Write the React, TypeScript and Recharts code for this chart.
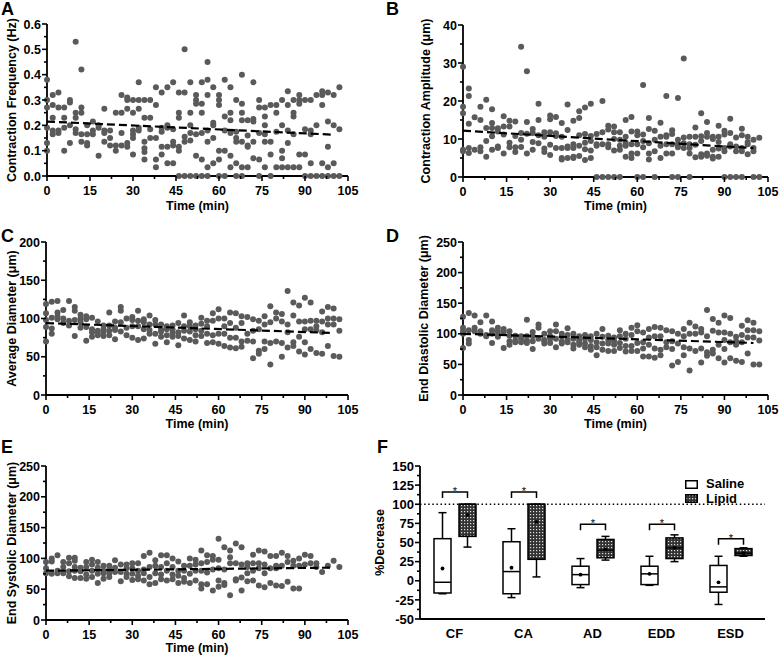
import React from 'react';
import { ScatterChart, Scatter, XAxis, YAxis, ReferenceLine, BarChart, Bar, Legend } from 'recharts';

const FONT = '"Liberation Sans", Arial, Helvetica, sans-serif';
const INK = '#000';
const DOT = '#5a5a5a';
const TS = 5;
const TM = 3;

// ---------- shared time axis ----------
const times = [0, 2, 4, 6, 8, 10, 12, 14, 16, 18, 20, 22, 24, 26, 28, 30, 32, 34, 36, 38, 40, 42, 44, 46, 48, 50,
  52, 54, 56, 58, 60, 62, 64, 66, 68, 70, 72, 74, 76, 78, 80, 82, 84, 86, 88, 90, 92, 94, 96, 98, 100, 102];
const timeMajor = [0, 15, 30, 45, 60, 75, 90, 105];
const timeMinor = [7.5, 22.5, 37.5, 52.5, 67.5, 82.5, 97.5];
const trendTimes = [0, 100];

// ---------- A: contraction frequency (Hz) ----------
const freqValues: number[][] = [
  [0.38, 0.3, 0.27, 0.19, 0.13, 0.1], [0.32, 0.28, 0.23, 0.18, 0.165], [0.33, 0.27, 0.18, 0.17],
  [0.27, 0.23, 0.19, 0.1], [0.3, 0.29, 0.2, 0.13], [0.53, 0.25, 0.23, 0.185, 0.17],
  [0.42, 0.27, 0.25, 0.165, 0.135], [0.2, 0.165, 0.13, 0.12], [0.215, 0.18, 0.165],
  [0.2, 0.19, 0.08], [0.265, 0.18, 0.17, 0.135], [0.18, 0.15, 0.12], [0.25, 0.12, 0.1],
  [0.32, 0.25, 0.17, 0.12], [0.31, 0.3, 0.265, 0.13, 0.115], [0.3, 0.25, 0.18, 0.165, 0.15, 0.085],
  [0.37, 0.3, 0.265, 0.19, 0.18], [0.3, 0.23, 0.135, 0.11, 0.095, 0.065], [0.3, 0.23, 0.185, 0.15],
  [0.35, 0.28, 0.15, 0.065, 0.035], [0.33, 0.19, 0.175, 0.115, 0.085], [0.35, 0.2, 0.19, 0.115, 0.05],
  [0.37, 0.185, 0.135, 0.12, 0.05], [0.33, 0.25, 0.23, 0.115, 0.1, 0], [0.5, 0.33, 0.155, 0.135, 0],
  [0.37, 0.25, 0.2, 0.17, 0.14, 0], [0.32, 0.3, 0.285, 0.165, 0.08, 0], [0.37, 0.285, 0.25, 0.17, 0.065, 0],
  [0.45, 0.38, 0.32, 0.18, 0.135, 0.035, 0], [0.35, 0.21, 0.2, 0.15, 0.05], [0.32, 0.3, 0.28, 0.1, 0.065, 0],
  [0.38, 0.235, 0.18, 0.1, 0], [0.35, 0.25, 0.22, 0.17, 0.08, 0.035], [0.3, 0.175, 0.15, 0.135, 0.05, 0],
  [0.4, 0.285, 0.25, 0.22, 0.135, 0.035, 0], [0.22, 0.16, 0.12, 0.115, 0.035], [0.37, 0.225, 0.215, 0.135, 0.07],
  [0.3, 0.27, 0.17, 0.065, 0], [0.27, 0.235, 0.2, 0.165, 0.135, 0.035], [0.28, 0.135, 0.085, 0],
  [0.28, 0.25, 0.175, 0.035], [0.3, 0.2, 0.1, 0.07, 0.035], [0.335, 0.28, 0.18, 0.13, 0.035],
  [0.3, 0.25, 0.235, 0.165, 0.035], [0.32, 0.3, 0.285, 0.085, 0.035], [0.3, 0.185, 0.085, 0],
  [0.3, 0.18, 0.165, 0.05, 0], [0.32, 0.2, 0], [0.335, 0.32, 0.28, 0.05, 0], [0.33, 0.215, 0.115, 0.035, 0],
  [0.32, 0.2, 0.05, 0], [0.35, 0.185, 0],
];
const freqTrend = [0.215, 0.163];
const freqMajor = [0, 0.1, 0.2, 0.3, 0.4, 0.5, 0.6];
const freqMinor = [0.05, 0.15, 0.25, 0.35, 0.45, 0.55];

// ---------- B: contraction amplitude (um) ----------
const ampValues: number[][] = [
  [29, 18.5, 16.8, 7.2, 6.8], [23.3, 21.3, 14, 7.6, 6.3], [15.7, 7.2], [18.5, 15, 7.8, 6.8],
  [20.3, 12.9, 9.5, 5.3], [17.8, 14.2, 12.9, 10.7, 7.2], [12.8, 12, 8, 7.6], [16, 13.3, 11.2, 6.2],
  [14.8, 13.3, 9, 7.8], [14.6, 10.8, 7.8, 6.6], [34.3, 11.6, 9.8, 7.9], [27.8, 14.5, 11.4, 6.2],
  [12.6, 11.6, 9.2, 7.2], [19.3, 15, 11, 8.9], [11.8, 10.6, 7.5, 6.6], [16.2, 15.2, 11.8, 8.5, 5.8],
  [15.8, 11.5, 10.8, 7.6], [14.2, 10.6, 7.6, 5, 4.6], [19.1, 12.4, 8, 7.6, 5], [14.8, 8.6, 7.6, 5.3, 5],
  [17.3, 15.5, 11, 8.2, 5.5], [18.3, 11.3, 9, 7.3, 4.5], [19.3, 10.8, 9.5, 7, 5], [11.3, 8.6, 8.2, 0],
  [20, 11.8, 8.6, 0], [13.5, 12.5, 8.6, 7.8, 0], [13.3, 11.8, 10, 7, 0], [11.8, 9.8, 8.2, 7.2, 0],
  [15, 10.6, 9, 8.2, 5.3], [15.8, 12, 8.6, 6.2, 5], [12, 11, 8.6, 6.2, 0], [24.2, 11.2, 9.5, 7.8, 0],
  [15.5, 12.6, 8.9, 6.2, 4.6], [12.2, 9.8, 6.8, 0], [14.3, 10.6, 8.2, 5], [21.3, 11, 10.6, 8.6, 6.2],
  [12.3, 11.3, 8.6, 6.2, 0], [20.8, 9.8, 8.6, 7.8, 0], [31.2, 10.4, 8.9, 7.6], [10.6, 8.6, 7.6, 6.2, 0],
  [13, 10.6, 8.5, 5.2], [16.8, 10.7, 9.5, 6, 5.3], [14.5, 11.6, 10.6, 6.2, 5.6], [10.6, 10, 7.2, 5.3, 4.9],
  [13.5, 10.6, 9.2, 7.5, 5.3], [12.2, 11.2, 7.6, 6.8, 0], [15.3, 11.6, 8.6, 8, 0], [10.4, 8, 6.8, 0],
  [12.7, 11, 7.6, 6.8, 0], [10.6, 9.2, 8.6, 6], [9.8, 7.6, 6.8, 0], [10.3, 0],
];
const ampTrend = [12.2, 7.6];
const ampMajor = [0, 10, 20, 30, 40];
const ampMinor = [5, 15, 25, 35];

// ---------- C: average diameter (um) ----------
const avgValues: number[][] = [
  [119, 107, 98, 89, 70], [122, 101, 87, 80], [123, 108, 103, 99], [111, 100, 94], [123, 97, 91],
  [115, 110, 98, 77], [105, 100, 95, 88], [103, 99, 89, 71], [101, 86, 82, 76], [96, 84, 80, 78],
  [91, 86, 83, 77], [108, 91, 84, 78], [96, 88, 85, 73], [115, 110, 95, 83], [100, 88, 78],
  [102, 98, 90, 75], [110, 97, 90, 72], [99, 95, 86, 74], [104, 92, 85, 80], [98, 92, 80, 67],
  [92, 86, 83, 76], [90, 86, 78, 69], [91, 86, 81, 76], [94, 82, 77, 65], [104, 90, 84, 74],
  [95, 90, 83, 72], [91, 86, 78, 70], [101, 93, 84, 77], [97, 90, 80, 68], [107, 97, 78, 69],
  [112, 100, 80, 67], [100, 90, 80, 64], [108, 94, 75, 62], [107, 88, 75, 61], [103, 94, 70, 63],
  [102, 80, 71], [99, 84, 70, 48], [97, 86, 58, 54], [103, 92, 70, 60], [116, 95, 68, 40],
  [108, 100, 70], [106, 96, 68, 50], [136, 92, 82, 62], [121, 104, 69, 64], [117, 96, 76, 57],
  [127, 96, 86, 69, 53], [121, 97, 86, 60], [97, 90, 85, 55], [109, 96, 82, 54], [115, 100, 92, 64],
  [113, 100, 92, 51], [99, 84, 50],
];
const avgTrend = [94, 81];
const avgMajor = [0, 50, 100, 150, 200];
const avgMinor = [25, 75, 125, 175];

// ---------- D: end diastolic diameter (um) ----------
const eddValues: number[][] = [
  [128, 110, 104, 100, 77], [134, 106, 90, 84], [130, 110, 104], [119, 104, 100], [130, 98, 96],
  [120, 106, 100, 85], [110, 104, 98, 95], [108, 103, 77], [104, 97, 88, 82], [97, 89, 86],
  [96, 92, 86], [123, 96, 89, 85], [103, 96, 88, 75], [115, 110, 92], [100, 90, 88, 84],
  [104, 96, 92, 85], [115, 104, 92, 78], [100, 96, 88, 84], [109, 98, 90, 86], [100, 92, 82, 76],
  [96, 90, 86, 82], [98, 92, 84, 78], [96, 90, 80, 74], [100, 86, 78, 65], [108, 95, 84, 74],
  [97, 90, 84, 72], [94, 88, 82, 72], [106, 96, 85, 77], [100, 92, 80, 71], [110, 98, 80, 72],
  [114, 104, 85, 72], [102, 86, 76, 63], [108, 94, 82, 63], [111, 96, 76, 61], [110, 96, 74, 65],
  [106, 86, 78], [104, 88, 75, 48], [100, 84, 54], [108, 96, 78, 65], [118, 100, 76, 40],
  [112, 100, 72], [108, 102, 76, 53], [139, 96, 70, 64], [124, 105, 74, 68], [118, 102, 82, 60],
  [130, 102, 90, 75, 53], [126, 100, 86, 60], [95, 88, 82, 56], [113, 98, 86, 54], [122, 106, 94, 68],
  [118, 106, 94, 50], [104, 89, 50],
];
const eddTrend = [100, 85];
const diamMajor = [0, 50, 100, 150, 200, 250];
const diamMinor = [25, 75, 125, 175, 225];

// ---------- E: end systolic diameter (um) ----------
const esdValues: number[][] = [
  [94, 84, 76], [100, 95, 75], [105, 80, 76], [94, 86, 76], [101, 92, 79, 71], [101, 96, 86, 80, 68],
  [85, 79, 68], [94, 86, 74, 67], [98, 90, 80, 70], [94, 85, 75, 60], [88, 80, 76, 67], [88, 82, 76, 70],
  [97, 85, 78], [90, 78, 63], [90, 84, 75, 70], [92, 84, 75, 65], [92, 80, 72, 66], [104, 82, 76, 64],
  [109, 86, 70, 58], [97, 88, 76, 60], [105, 86, 74, 66], [105, 92, 80, 64], [100, 86, 74, 66],
  [95, 80, 72, 60], [88, 80, 68, 62], [100, 88, 75, 60], [98, 90, 80, 64], [113, 92, 80, 58, 51],
  [105, 94, 77, 58], [104, 98, 82, 48], [132, 98, 84, 64, 54], [118, 82, 60, 57], [113, 102, 92, 40],
  [124, 92, 66, 64], [118, 90, 69, 48], [92, 86, 76, 63], [106, 92, 80, 64], [113, 92, 84, 56],
  [111, 90, 76, 53], [104, 84, 60], [104, 88, 84, 56], [109, 88, 55], [104, 94, 62], [96, 88, 51],
  [100, 88, 51], [106, 90], [104, 92], [92, 86], [78], [88], [96], [86],
];
const esdTrend = [80, 85];

// ---------- F: % decrease box plots ----------
const boxCats = ['CF', 'CA', 'AD', 'EDD', 'ESD'];
const salineMin = [-17, -22, -9, -6, -31];
const salineQ1 = [-16, -17, -5, -5, -15];
const salineMed = [-2, 12, 8, 9, -8];
const salineQ3 = [55, 51, 19, 19, 20];
const salineMax = [89, 68, 29, 32, 32];
const salineMean = [16, 17, 8, 9, -2];
const lipidMin = [44, 5, 27, 25, 32];
const lipidQ1 = [58, 28, 30, 29, 33];
const lipidMed = [100, 100, 40, 43, 36];
const lipidQ3 = [100, 100, 54, 56, 42];
const lipidMax = [100, 100, 58, 60, 43];
const lipidMean = [86, 77, 41, 43, 36];
const sigBracket = [116, 116, 74, 74, 55];
const pctMajor = [-50, -25, 0, 25, 50, 75, 100, 125, 150];
const pctMinor = [-37.5, -12.5, 12.5, 37.5, 62.5, 87.5, 112.5, 137.5];
const refLevel = 100;
const legendNames = ['Saline', 'Lipid'];

// ---------- helpers ----------
const txt = (fs: number): React.CSSProperties => ({ fontFamily: FONT, fontWeight: 700, fontSize: fs, fill: INK });
const merge = (a: number[], b: number[]) => [...a, ...b].sort((p, q) => p - q);
const isIn = (arr: number[], v: number) => arr.some((m) => Math.abs(m - v) < 1e-6);

function toPoints(vals: number[][]) {
  const out: { t: number; v: number }[] = [];
  vals.forEach((row, i) => row.forEach((v) => out.push({ t: times[i], v })));
  return out;
}

function makeXTick(major: number[], fmt: (v: any) => string, fs: number, showLines = true) {
  return function XTick(p: any) {
    const v = p.payload.value;
    const isMaj = typeof v !== 'number' || isIn(major, v);
    const ay = p.y - TS - TM;
    return (
      <g>
        {showLines ? (
          <line x1={p.x} x2={p.x} y1={ay} y2={ay + (isMaj ? 5 : 3)} stroke={INK} strokeWidth={1.6} />
        ) : null}
        {isMaj ? (
          <text x={p.x} y={ay + 18.5} textAnchor="middle" style={txt(fs)}>
            {fmt(v)}
          </text>
        ) : null}
      </g>
    );
  };
}

function makeYTick(major: number[], fmt: (v: number) => string, fs: number) {
  return function YTick(p: any) {
    const v = p.payload.value;
    const isMaj = isIn(major, v);
    const ax = p.x + TS + TM;
    return (
      <g>
        <line x1={ax - (isMaj ? 5 : 3)} x2={ax} y1={p.y} y2={p.y} stroke={INK} strokeWidth={1.6} />
        {isMaj ? (
          <text x={ax - 6} y={p.y} dy="0.36em" textAnchor="end" style={txt(fs)}>
            {fmt(v)}
          </text>
        ) : null}
      </g>
    );
  };
}

const DotShape = (p: any) => <circle cx={p.cx} cy={p.cy} r={3} fill={DOT} />;
const NoShape = () => <g />;

type PanelProps = {
  left: number; top: number; width: number; height: number; mTop: number; yW: number; xH: number;
  yDomain: [number, number]; yMajor: number[]; yMinor: number[]; fmt: (v: number) => string;
  values: number[][]; trend: number[]; title: string; titleX: number; xTitleOffset: number;
};

function ScatterPanel(pp: PanelProps) {
  const points = toPoints(pp.values);
  const trendPts = trendTimes.map((t, i) => ({ t, v: pp.trend[i] }));
  return (
    <div style={{ position: 'absolute', left: pp.left, top: pp.top }}>
      <ScatterChart width={pp.width} height={pp.height} margin={{ top: pp.mTop, right: 12, bottom: 0, left: 0 }}>
        <XAxis
          type="number"
          dataKey="t"
          domain={[0, 105]}
          ticks={merge(timeMajor, timeMinor)}
          interval={0}
          tick={makeXTick(timeMajor, (v) => String(v), 12.5)}
          tickLine={false}
          tickSize={TS}
          tickMargin={TM}
          axisLine={{ stroke: INK, strokeWidth: 1.8 }}
          height={pp.xH}
          label={{ value: 'Time (min)', position: 'insideBottom', offset: pp.xTitleOffset, style: txt(12.5) }}
        />
        <YAxis
          type="number"
          dataKey="v"
          domain={pp.yDomain}
          ticks={merge(pp.yMajor, pp.yMinor)}
          interval={0}
          tick={makeYTick(pp.yMajor, pp.fmt, 12.5)}
          tickLine={false}
          tickSize={TS}
          tickMargin={TM}
          axisLine={{ stroke: INK, strokeWidth: 1.8 }}
          width={pp.yW}
          label={{
            value: pp.title, angle: -90, position: 'insideLeft', offset: pp.titleX,
            style: { ...txt(12.5), textAnchor: 'middle' },
          }}
        />
        <Scatter data={points} shape={DotShape} isAnimationActive={false} />
        <Scatter
          data={trendPts}
          shape={NoShape}
          line={{ stroke: INK, strokeWidth: 2.2, strokeDasharray: '8 4' }}
          legendType="none"
          isAnimationActive={false}
        />
      </ScatterChart>
    </div>
  );
}

// ---------- box plot ----------
const boxRows = boxCats.map((cat, i) => ({
  cat,
  idx: i,
  saline: [salineMin[i], salineMax[i]],
  lipid: [lipidMin[i], lipidMax[i]],
}));

const BAR_GAP = 8;

function makeBoxShape(kind: 'saline' | 'lipid') {
  return function BoxShape(p: any) {
    const i = p.payload.idx;
    const s = kind === 'saline';
    const mn = s ? salineMin[i] : lipidMin[i];
    const q1 = s ? salineQ1[i] : lipidQ1[i];
    const md = s ? salineMed[i] : lipidMed[i];
    const q3 = s ? salineQ3[i] : lipidQ3[i];
    const mx = s ? salineMax[i] : lipidMax[i];
    const mean = s ? salineMean[i] : lipidMean[i];
    const top = Math.min(p.y, p.y + p.height);
    const bot = Math.max(p.y, p.y + p.height);
    const ppu = mx !== mn ? (bot - top) / (mx - mn) : 0;
    const py = (v: number) => top + (mx - v) * ppu;
    const x = p.x;
    const w = p.width;
    const cx = x + w / 2;
    const cap = 4;
    const sw = 1.5;
    const els: React.ReactNode[] = [];
    els.push(<line key="w1" x1={cx} x2={cx} y1={py(mx)} y2={py(q3)} stroke={INK} strokeWidth={sw} />);
    els.push(<line key="w2" x1={cx} x2={cx} y1={py(q1)} y2={py(mn)} stroke={INK} strokeWidth={sw} />);
    els.push(<line key="c1" x1={cx - cap} x2={cx + cap} y1={py(mx)} y2={py(mx)} stroke={INK} strokeWidth={sw} />);
    els.push(<line key="c2" x1={cx - cap} x2={cx + cap} y1={py(mn)} y2={py(mn)} stroke={INK} strokeWidth={sw} />);
    els.push(
      <rect key="b" x={x} y={py(q3)} width={w} height={py(q1) - py(q3)} fill={s ? '#fff' : 'url(#lipidHatch)'} stroke={INK} strokeWidth={sw} />
    );
    els.push(<line key="m" x1={x} x2={x + w} y1={py(md)} y2={py(md)} stroke={INK} strokeWidth={sw} />);
    els.push(<circle key="mean" cx={cx} cy={py(mean)} r={1.9} fill={INK} />);
    if (s) {
      const xl = x + w + BAR_GAP + w / 2;
      const by = py(sigBracket[i]);
      els.push(
        <path key="br" d={`M${cx},${by + 6} L${cx},${by} L${xl},${by} L${xl},${by + 6}`} fill="none" stroke={INK} strokeWidth={1.5} />
      );
      els.push(
        <text key="ast" x={(cx + xl) / 2} y={by + 3} textAnchor="middle" style={{ ...txt(11), fontWeight: 400 }}>
          *
        </text>
      );
    }
    return <g>{els}</g>;
  };
}

function LegendBox() {
  return (
    <div style={{ fontFamily: FONT, fontWeight: 700, fontSize: 13, color: INK }}>
      {legendNames.map((name, i) => (
        <div key={name} style={{ display: 'flex', alignItems: 'center', height: 14.5 }}>
          <svg width={13} height={9} style={{ display: 'block' }}>
            <rect x={0.75} y={0.75} width={11.5} height={7.5} fill={i === 0 ? '#fff' : 'url(#lipidHatch)'} stroke={INK} strokeWidth={1.5} />
          </svg>
          <span style={{ marginLeft: 8, lineHeight: '14px' }}>{name}</span>
        </div>
      ))}
    </div>
  );
}

function BoxPanel() {
  return (
    <div style={{ position: 'absolute', left: 370, top: 432 }}>
      <BarChart
        width={410}
        height={224}
        data={boxRows}
        margin={{ top: 34, right: 15, bottom: 0, left: 0 }}
        barSize={17}
        barGap={BAR_GAP}
      >
        <XAxis
          dataKey="cat"
          type="category"
          interval={0}
          tick={makeXTick([], (v) => String(v), 13, false)}
          tickLine={false}
          tickSize={TS}
          tickMargin={TM}
          axisLine={{ stroke: INK, strokeWidth: 1.8 }}
          height={37}
        />
        <YAxis
          type="number"
          domain={[-50, 150]}
          ticks={merge(pctMajor, pctMinor)}
          interval={0}
          allowDataOverflow
          tick={makeYTick(pctMajor, (v) => String(v), 13)}
          tickLine={false}
          tickSize={TS}
          tickMargin={TM}
          axisLine={{ stroke: INK, strokeWidth: 1.8 }}
          width={50}
          label={{
            value: '%Decrease', angle: -90, position: 'insideLeft', offset: 10,
            style: { ...txt(12.5), textAnchor: 'middle' },
          }}
        />
        <ReferenceLine y={refLevel} stroke={INK} strokeWidth={1.4} strokeDasharray="1.5 2.6" />
        <Bar dataKey="saline" shape={makeBoxShape('saline')} isAnimationActive={false} />
        <Bar dataKey="lipid" shape={makeBoxShape('lipid')} isAnimationActive={false} />
        <Legend
          layout="vertical"
          align="center"
          verticalAlign="middle"
          content={() => <LegendBox />}
          wrapperStyle={{ left: 315, top: 45, width: 'auto', height: 'auto' }}
        />
      </BarChart>
    </div>
  );
}

const panelLetters = [
  { s: 'A', x: 1, y: 15 },
  { s: 'B', x: 386, y: 15 },
  { s: 'C', x: 1, y: 242 },
  { s: 'D', x: 386, y: 242 },
  { s: 'E', x: 1, y: 453 },
  { s: 'F', x: 377, y: 453 },
];

export default function App() {
  return (
    <div style={{ position: 'absolute', left: 0, top: 0, width: 780, height: 656, background: '#fff', overflow: 'hidden' }}>
      <svg width={0} height={0} style={{ position: 'absolute' }}>
        <defs>
          <pattern id="lipidHatch" patternUnits="userSpaceOnUse" width={3} height={3}>
            <rect x={0} y={0} width={3} height={3} fill="#333333" />
            <rect x={1} y={1} width={1.2} height={1.2} fill="#e0e0e0" />
          </pattern>
        </defs>
      </svg>
      <ScatterPanel left={0} top={0} width={360} height={215} mTop={24} yW={47} xH={39}
        yDomain={[0, 0.6]} yMajor={freqMajor} yMinor={freqMinor} fmt={(v) => v.toFixed(1)}
        values={freqValues} trend={freqTrend} title="Contraction Frequency (Hz)" titleX={12} xTitleOffset={5} />
      <ScatterPanel left={390} top={0} width={390} height={215} mTop={25} yW={73} xH={38}
        yDomain={[0, 40]} yMajor={ampMajor} yMinor={ampMinor} fmt={(v) => String(v)}
        values={ampValues} trend={ampTrend} title="Contraction Amplitude (μm)" titleX={36} xTitleOffset={5} />
      <ScatterPanel left={0} top={212} width={360} height={220} mTop={30} yW={46} xH={37}
        yDomain={[0, 200]} yMajor={avgMajor} yMinor={avgMinor} fmt={(v) => String(v)}
        values={avgValues} trend={avgTrend} title="Average Diameter (μm)" titleX={12} xTitleOffset={4} />
      <ScatterPanel left={390} top={212} width={390} height={220} mTop={30} yW={73} xH={37}
        yDomain={[0, 250]} yMajor={diamMajor} yMinor={diamMinor} fmt={(v) => String(v)}
        values={eddValues} trend={eddTrend} title="End Diastolic Diameter (μm)" titleX={34} xTitleOffset={4} />
      <ScatterPanel left={0} top={432} width={360} height={224} mTop={34} yW={46} xH={36}
        yDomain={[0, 250]} yMajor={diamMajor} yMinor={diamMinor} fmt={(v) => String(v)}
        values={esdValues} trend={esdTrend} title="End Systolic Diameter (μm)" titleX={12} xTitleOffset={4} />
      <BoxPanel />
      <svg width={780} height={656} style={{ position: 'absolute', left: 0, top: 0, pointerEvents: 'none' }}>
        {panelLetters.map((l) => (
          <text key={l.s} x={l.x} y={l.y} style={txt(18)}>
            {l.s}
          </text>
        ))}
      </svg>
    </div>
  );
}
